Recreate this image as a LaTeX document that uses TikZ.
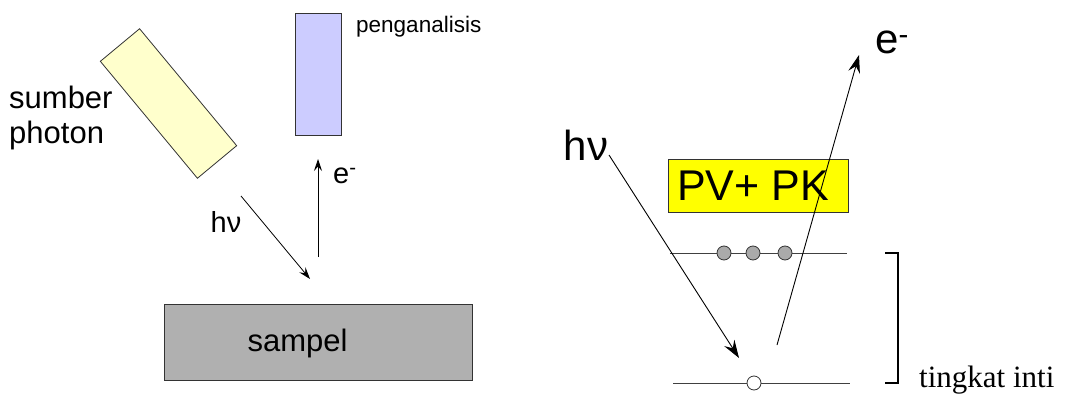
\documentclass[tikz,border=0pt]{standalone}
\usepackage{fontspec}
\setmainfont{Liberation Sans}
\newfontfamily\serifface{Liberation Serif}
\usetikzlibrary{arrows.meta}
\definecolor{srcyellow}{HTML}{FFFFCC}
\definecolor{anablue}{HTML}{CCCCFF}
\definecolor{samgray}{HTML}{B0B0B0}
\definecolor{pvyellow}{HTML}{FFFF00}
\definecolor{dotgray}{HTML}{AAAAAA}
\newcommand{\fs}[1]{\fontsize{#1}{#1}\selectfont}
\tikzset{
  conn/.style={line width=0.8pt,-{Stealth[length=12pt,width=8pt,inset=4.5pt]}},
  bigconn/.style={line width=0.9pt,-{Stealth[length=18pt,width=12pt,inset=6.5pt]}},
  level/.style={line width=0.9pt,draw=black!75},
  dot/.style={circle,draw=black!80,line width=0.8pt,minimum size=14pt,inner sep=0pt},
  box/.style={draw=black!80,line width=0.8pt,inner sep=0pt}
}
\begin{document}
\begin{tikzpicture}[x=1pt,y=-1pt]
\useasboundingbox (0,0) rectangle (1071,396);
% left part
\node[box,fill=srcyellow,rotate=-50.3,minimum width=152pt,minimum height=51pt] (src) at (168.5,103.5) {};
\node[anchor=west,align=left,font=\fs{31},inner sep=0pt] (srclab) at (9,118) {sumber\\[4pt]photon};
\node[box,fill=anablue,minimum width=46pt,minimum height=122pt] (ana) at (318,74) {};
\node[anchor=west,font=\fs{22.5},inner sep=0pt] (analab) at (356,27) {penganalisis};
\node[box,fill=samgray,minimum width=308pt,minimum height=76pt] (sam) at (318,342) {};
\node[font=\fs{31},inner sep=0pt] (samlab) at (297.5,343) {sampel};
\coordinate (h1s) at (241,196);
\coordinate (h1e) at (310,279);
\draw[conn] (h1s) -- (h1e);
\node[font=\fs{29},inner sep=0pt] (hv1) at (226,222) {hν};
\coordinate (e1s) at (318,257);
\coordinate (e1e) at (318,159);
\draw[conn] (e1s) -- (e1e);
\node[anchor=west,font=\fs{29},inner sep=0pt] (el1) at (333,176) {e\textsuperscript{-}};
% right part
\node[box,fill=pvyellow,minimum width=180pt,minimum height=53pt] (pv) at (758,185.5) {};
\node[anchor=west,font=\fs{43},inner sep=0pt] (pvlab) at (677,186) {PV+ PK};
\coordinate (u1) at (670,253);
\coordinate (u2) at (847,253);
\draw[level] (u1) -- (u2);
\node[dot,fill=dotgray] (d1) at (724,253) {};
\node[dot,fill=dotgray] (d2) at (753,253) {};
\node[dot,fill=dotgray] (d3) at (785,253) {};
\coordinate (l1) at (673,383);
\coordinate (l2) at (850,383);
\draw[level] (l1) -- (l2);
\node[dot,fill=white] (hole) at (754,383) {};
\node[font=\fs{42},inner sep=0pt] (hv2) at (586,145) {hν};
\coordinate (h2s) at (609,155);
\coordinate (h2e) at (739,358);
\draw[bigconn] (h2s) -- (h2e);
\coordinate (e2s) at (777,345);
\coordinate (e2e) at (859,55);
\draw[bigconn] (e2s) -- (e2e);
\node[anchor=west,font=\fs{42},inner sep=0pt] (el2) at (875,42) {e\textsuperscript{-}};
\coordinate (b1) at (885,253);
\coordinate (b2) at (898,253);
\coordinate (b3) at (898,383);
\coordinate (b4) at (885,383);
\draw[line width=1.4pt] (b1) -- (b2) -- (b3) -- (b4);
\node[anchor=west,font={\serifface\fs{31}},inner sep=0pt] (inti) at (919,380) {tingkat inti};
\end{tikzpicture}
\end{document}
